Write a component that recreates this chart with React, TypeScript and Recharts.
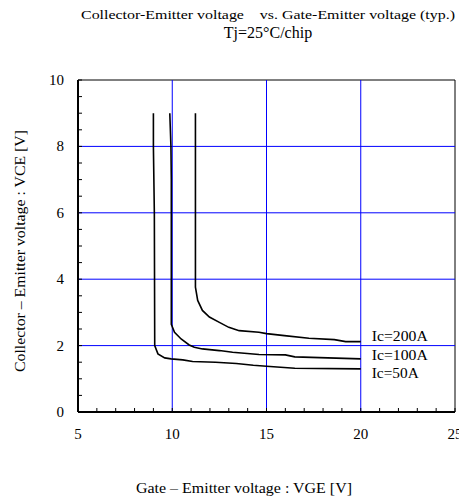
import { LineChart, Line, XAxis, YAxis, ReferenceLine, ReferenceArea, LabelList } from 'recharts';

// VCE vs VGE curves (Tj = 25°C)
const ic50 = [
  { vge: 9.0, vce: 9.0 }, { vge: 9.0, vce: 8.0 }, { vge: 9.05, vce: 6.0 }, { vge: 9.07, vce: 2.0 },
  { vge: 9.24, vce: 1.75 }, { vge: 9.6, vce: 1.63 }, { vge: 9.94, vce: 1.6 }, { vge: 10.56, vce: 1.57 },
  { vge: 11.08, vce: 1.52 }, { vge: 12.3, vce: 1.5 }, { vge: 13.4, vce: 1.46 }, { vge: 14.3, vce: 1.41 },
  { vge: 15.0, vce: 1.38 }, { vge: 16.5, vce: 1.32 }, { vge: 20.0, vce: 1.3 },
];
const ic100 = [
  { vge: 9.87, vce: 9.0 }, { vge: 9.93, vce: 8.0 }, { vge: 9.95, vce: 7.0 }, { vge: 9.95, vce: 2.64 },
  { vge: 10.12, vce: 2.4 }, { vge: 10.47, vce: 2.2 }, { vge: 10.9, vce: 2.02 }, { vge: 11.17, vce: 1.95 },
  { vge: 11.6, vce: 1.9 }, { vge: 12.5, vce: 1.85 }, { vge: 13.2, vce: 1.8 }, { vge: 14.6, vce: 1.73 },
  { vge: 16.0, vce: 1.72 }, { vge: 16.5, vce: 1.66 }, { vge: 20.0, vce: 1.6 },
];
const ic200 = [
  { vge: 11.23, vce: 9.0 }, { vge: 11.23, vce: 3.76 }, { vge: 11.35, vce: 3.36 }, { vge: 11.6, vce: 3.06 },
  { vge: 11.97, vce: 2.86 }, { vge: 12.5, vce: 2.7 }, { vge: 13.0, vce: 2.55 }, { vge: 13.55, vce: 2.45 },
  { vge: 14.6, vce: 2.4 }, { vge: 15.0, vce: 2.36 }, { vge: 15.95, vce: 2.3 }, { vge: 17.25, vce: 2.22 },
  { vge: 18.6, vce: 2.18 }, { vge: 19.2, vce: 2.12 }, { vge: 20.0, vce: 2.12 },
];

const xTicks = [5, 6, 7, 8, 9, 10, 11, 12, 13, 14, 15, 16, 17, 18, 19, 20, 21, 22, 23, 24, 25];
const yTicks = [0, 0.5, 1, 1.5, 2, 2.5, 3, 3.5, 4, 4.5, 5, 5.5, 6, 6.5, 7, 7.5, 8, 8.5, 9, 9.5, 10];
const xGrid = [10, 15, 20];
const yGrid = [2, 4, 6, 8];

const FONT = '"Liberation Serif", "Times New Roman", serif';

// minor ticks point inward, labels only on the major values
const XTick = ({ x, y, payload }: any) => (
  <g>
    <line x1={x} y1={y} x2={x} y2={y - 4} stroke="#000" />
    {payload.value % 5 === 0 && (
      <text x={x} y={y + 27} textAnchor="middle" fontSize={15} fontFamily={FONT} fill="#000">
        {payload.value}
      </text>
    )}
  </g>
);

const YTick = ({ x, y, payload }: any) => (
  <g>
    <line x1={x} y1={y} x2={x + 4} y2={y} stroke="#000" />
    {payload.value % 2 === 0 && (
      <text x={x - 14} y={y} textAnchor="end" dominantBaseline="central" fontSize={15} fontFamily={FONT} fill="#000">
        {payload.value}
      </text>
    )}
  </g>
);

const endLabel = (text: string, dy: number, last: number, w: number) => (props: any) =>
  props.index === last ? (
    <text
      x={props.x + 11}
      y={props.y + dy}
      dominantBaseline="central"
      fontSize={14}
      textLength={w}
      lengthAdjust="spacingAndGlyphs"
      fontFamily={FONT}
      fill="#000"
    >
      {text}
    </text>
  ) : null;

export default function App() {
  return (
    <div style={{ position: 'absolute', left: 0, top: 0, fontFamily: FONT }}>
      <LineChart width={459} height={498} margin={{ top: 80, right: 4, bottom: 0, left: 0 }}>
        <XAxis
          type="number"
          dataKey="vge"
          domain={[5, 25]}
          ticks={xTicks}
          interval={0}
          height={86}
          tickLine={false}
          tickSize={0}
          tickMargin={0}
          tick={<XTick />}
          axisLine={{ stroke: '#000', strokeWidth: 2 }}
          allowDuplicatedCategory={false}
          label={{
            content: () => (
              <text
                x={136}
                y={493}
                fontSize={14}
                textLength={216}
                lengthAdjust="spacingAndGlyphs"
                fontFamily={FONT}
                fill="#000"
              >
                Gate – Emitter voltage : VGE [V]
              </text>
            ),
          }}
        />
        <YAxis
          type="number"
          domain={[0, 10]}
          ticks={yTicks}
          interval={0}
          width={78}
          tickLine={false}
          tickSize={0}
          tickMargin={0}
          tick={<YTick />}
          axisLine={{ stroke: '#000', strokeWidth: 2 }}
          label={{
            content: () => (
              <text
                x={-130}
                y={25}
                transform="rotate(-90)"
                textAnchor="end"
                fontSize={14}
                textLength={242}
                lengthAdjust="spacingAndGlyphs"
                fontFamily={FONT}
                fill="#000"
              >
                Collector – Emitter voltage : VCE [V]
              </text>
            ),
          }}
        />
        <ReferenceArea x1={5} x2={25} y1={0} y2={10} fill="none" fillOpacity={0} stroke="#000" strokeWidth={1} />
        {xGrid.map((v) => (
          <ReferenceLine key={`x${v}`} x={v} stroke="#0000ff" strokeWidth={1} />
        ))}
        {yGrid.map((v) => (
          <ReferenceLine key={`y${v}`} y={v} stroke="#0000ff" strokeWidth={1} />
        ))}
        <Line data={ic200} dataKey="vce" type="linear" stroke="#000" strokeWidth={1.6} dot={false} isAnimationActive={false}>
          <LabelList dataKey="vce" content={endLabel('Ic=200A', -5, ic200.length - 1, 56)} />
        </Line>
        <Line data={ic100} dataKey="vce" type="linear" stroke="#000" strokeWidth={1.6} dot={false} isAnimationActive={false}>
          <LabelList dataKey="vce" content={endLabel('Ic=100A', -3, ic100.length - 1, 56)} />
        </Line>
        <Line data={ic50} dataKey="vce" type="linear" stroke="#000" strokeWidth={1.6} dot={false} isAnimationActive={false}>
          <LabelList dataKey="vce" content={endLabel('Ic=50A', 5, ic50.length - 1, 47)} />
        </Line>
        <text
          x={81}
          y={19}
          fontSize={13.5}
          textLength={374}
          lengthAdjust="spacingAndGlyphs"
          fontFamily={FONT}
          fill="#000"
          style={{ whiteSpace: 'pre' }}
        >
          {'Collector-Emitter voltage    vs. Gate-Emitter voltage (typ.)'}
        </text>
        <text x={268} y={38} textAnchor="middle" fontSize={16} fontFamily={FONT} fill="#000">
          Tj=25°C/chip
        </text>
      </LineChart>
    </div>
  );
}
